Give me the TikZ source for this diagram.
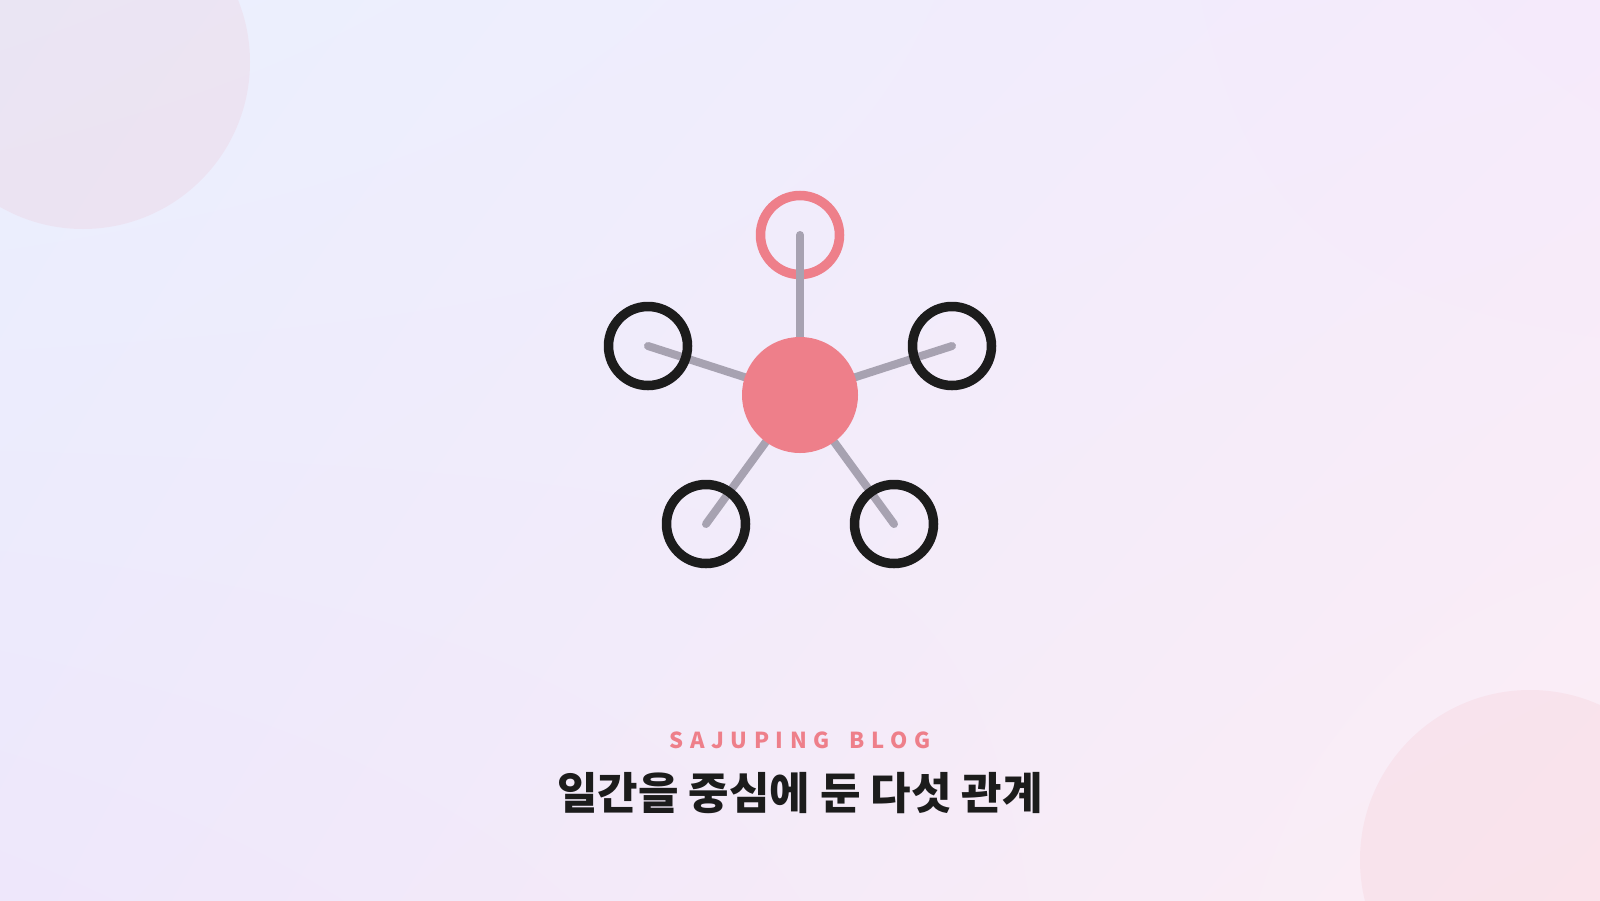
\documentclass[tikz,border=0pt]{standalone}
\usepackage{fontspec}
\usetikzlibrary{shadings}
\newfontfamily\krfont{Noto Sans CJK KR}
\newfontfamily\brandfont{Noto Sans CJK KR}[LetterSpace=30]
\definecolor{rose}{HTML}{EE7F8A}
\definecolor{ink}{HTML}{1C1C1C}
\definecolor{spokegray}{HTML}{A7A2B1}
\definecolor{bgTL}{HTML}{EAF0FE}
\definecolor{bgTR}{HTML}{F5EAFB}
\definecolor{bgBL}{HTML}{EEE7FB}
\definecolor{bgBR}{HTML}{FCEEF5}
\pgfdeclarelayer{backdrop}
\pgfdeclarelayer{spokes}
\pgfsetlayers{backdrop,spokes,main}
\begin{document}
\begin{tikzpicture}[x=1pt, y=-1pt,
  ring node/.style={circle,draw=ink,line width=9.5pt,minimum size=79pt,inner sep=0pt},
  day node/.style={circle,fill=rose,minimum size=116pt,inner sep=0pt},
  spoke/.style={draw=spokegray,line width=8pt,line cap=round}]
\useasboundingbox (0,0) rectangle (1600,900);
\begin{pgfonlayer}{backdrop}
\shade[upper left=bgTL, upper right=bgTR, lower left=bgBL, lower right=bgBR] (0,0) rectangle (1600,900);
\fill[rose, opacity=0.09] (83,62) circle[radius=167];
\fill[rose, opacity=0.09] (1530,860) circle[radius=170];
% top ring sits under its spoke
\node[ring node, draw=rose] (v1) at (800,235) {};
\end{pgfonlayer}
\node[day node] (ilgan) at (800,395) {};
\node[ring node] (v2) at (952,346) {};
\node[ring node] (v3) at (894,524) {};
\node[ring node] (v4) at (706,524) {};
\node[ring node] (v5) at (648,346) {};
\begin{pgfonlayer}{spokes}
\foreach \n in {v1,v2,v3,v4,v5}
  \draw[spoke] (ilgan.center) -- (\n.center);
\end{pgfonlayer}
\node[text=rose] (brand) at (800,740) {\brandfont\bfseries\fontsize{22}{26}\selectfont SAJUPING\hspace{20pt}BLOG};
\node[text=ink] (title) at (800,793) {\krfont\bfseries\fontsize{44}{52}\selectfont 일간을 중심에 둔 다섯 관계};
\end{tikzpicture}
\end{document}
